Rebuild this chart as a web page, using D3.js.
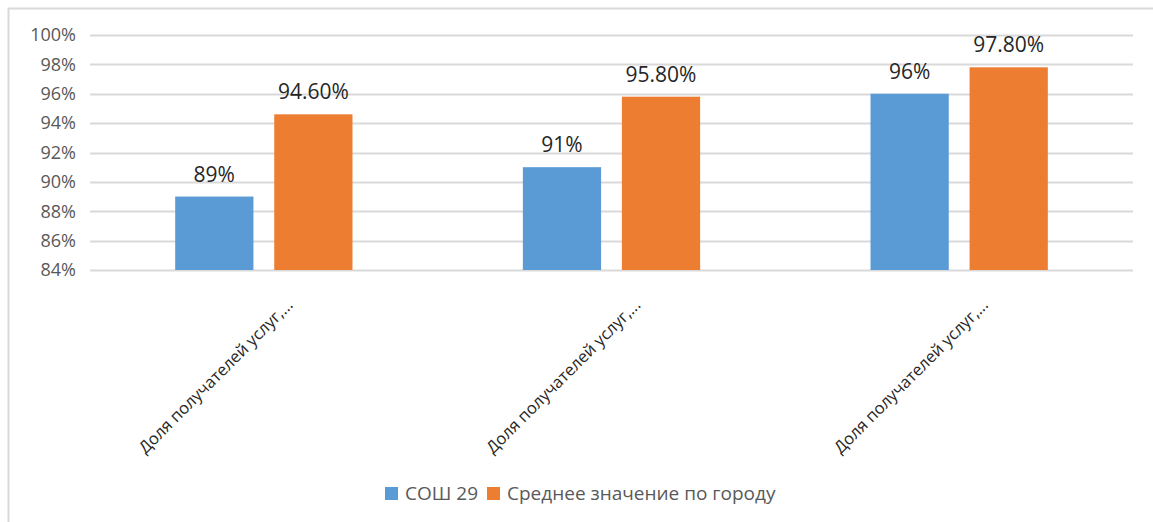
<!DOCTYPE html>
<html>
<head>
<meta charset="utf-8">
<script src="https://cdn.jsdelivr.net/npm/d3@7"></script>
<style>
  body { margin: 0; background: #fff; }
  text { font-family: "Open Sans", "Noto Sans", sans-serif; }
</style>
</head>
<body>
<div class="root"></div>
<script>
const width = 1153;
const height = 522;

const categories = ["Доля получателей услуг,...", "Доля получателей услуг,...", "Доля получателей услуг,..."];
const seriesNames = ["СОШ 29", "Среднее значение по городу"];
const school = [89, 91, 96];
const city = [94.6, 95.8, 97.8];
const schoolLabels = ["89%", "91%", "96%"];
const cityLabels = ["94.60%", "95.80%", "97.80%"];
const yTicks = [84, 86, 88, 90, 92, 94, 96, 98, 100];
const colors = ["#5b9bd5", "#ed7d31"];

const margin = { top: 35, right: 20, bottom: 252, left: 90 };

const svg = d3
  .select(".root")
  .append("svg")
  .attr("width", width)
  .attr("height", height);

// outer frame of the chart area
svg.append("rect")
  .attr("x", 8.5).attr("y", 8.5)
  .attr("width", width + 20).attr("height", height + 20)
  .attr("fill", "none")
  .attr("stroke", "#d9d9d9")
  .attr("stroke-width", 2);

const x = d3.scaleBand()
  .domain(d3.range(categories.length))
  .range([margin.left, width - margin.right]);

const y = d3.scaleLinear()
  .domain([84, 100])
  .range([height - margin.bottom, margin.top]);

const inner = d3.scaleBand()
  .domain([0, 1])
  .range([0, x.bandwidth()])
  .paddingInner(0.21)
  .paddingOuter(0.86);

// grid
svg.append("g")
  .selectAll("line")
  .data(yTicks)
  .join("line")
  .attr("x1", margin.left)
  .attr("x2", width - margin.right)
  .attr("y1", (d) => Math.round(y(d)) + 0.5)
  .attr("y2", (d) => Math.round(y(d)) + 0.5)
  .attr("stroke", "#d9d9d9")
  .attr("stroke-width", 2);

// y axis labels
const yAxis = d3.axisLeft(y).tickValues(yTicks).tickSize(0).tickPadding(14)
  .tickFormat((d) => d + "%");
svg.append("g")
  .attr("transform", `translate(${margin.left},0)`)
  .call(yAxis)
  .call((g) => g.select(".domain").remove())
  .selectAll("text")
  .attr("font-size", 18)
  .attr("fill", "#595959")
  .attr("font-family", "Open Sans, sans-serif");

const series = [school, city];
const labels = [schoolLabels, cityLabels];

series.forEach((vals, s) => {
  svg.append("g")
    .selectAll("rect")
    .data(vals)
    .join("rect")
    .attr("x", (d, i) => x(i) + inner(s))
    .attr("width", inner.bandwidth())
    .attr("y", (d) => y(d))
    .attr("height", (d) => y(84) - y(d))
    .attr("fill", colors[s]);

  svg.append("g")
    .selectAll("text")
    .data(vals)
    .join("text")
    .attr("x", (d, i) => x(i) + inner(s) + inner.bandwidth() / 2)
    .attr("y", (d) => y(d) - 15)
    .attr("text-anchor", "middle")
    .attr("font-size", 21)
    .attr("fill", "#262626")
    .text((d, i) => labels[s][i]);
});

// category labels rotated
svg.append("g")
  .selectAll("text")
  .data(categories)
  .join("text")
  .attr("transform", (d, i) => `translate(${x(i) + x.bandwidth() / 2 + 30},${y(84) + 36}) rotate(-45)`)
  .attr("text-anchor", "end")
  .attr("font-size", 16.5)
  .attr("fill", "#262626")
  .text((d) => d);

// legend
const legend = svg.append("g").attr("transform", "translate(385,493)");
let lx = 0;
seriesNames.forEach((name, s) => {
  const item = legend.append("g").attr("transform", `translate(${lx},0)`);
  item.append("rect")
    .attr("x", 0).attr("y", -6)
    .attr("width", 13).attr("height", 13)
    .attr("fill", colors[s]);
  const t = item.append("text")
    .attr("x", 20).attr("y", 7)
    .attr("font-size", 19)
    .attr("fill", "#595959")
    .text(name);
  lx += 20 + t.node().getComputedTextLength() + 9;
});
</script>
</body>
</html>
